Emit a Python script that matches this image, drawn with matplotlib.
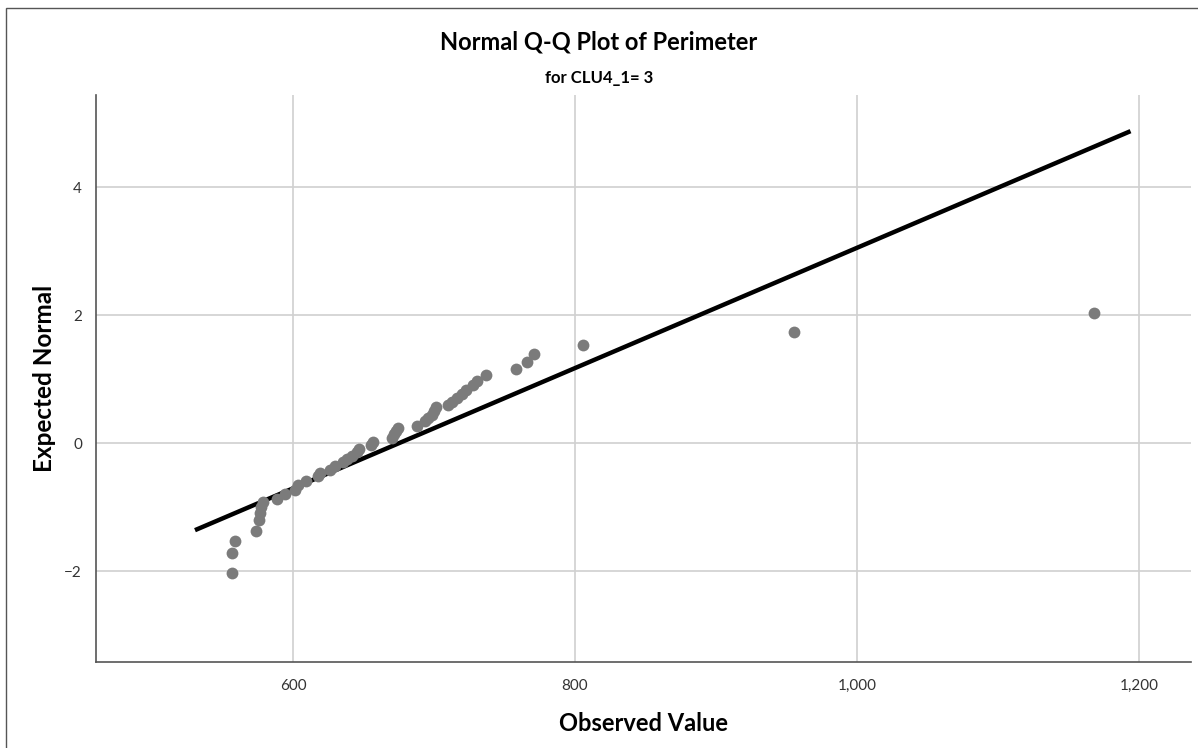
import matplotlib.pyplot as plt
from matplotlib.patches import Rectangle
from matplotlib.ticker import FuncFormatter

# ========== Data ==========
observed = [556.7, 556.7, 558.9, 573.8, 575.9, 576.6, 577.3, 578.7, 588.7, 594.3,
            601.4, 603.5, 609.2, 617.7, 619.1, 626.2, 629.8, 635.5, 638.3, 641.8,
            645.4, 646.8, 655.3, 656.7, 670.2, 671.6, 673.0, 674.5, 687.9, 693.6,
            695.7, 698.6, 700.0, 701.4, 709.9, 712.8, 716.3, 719.9, 722.7, 727.7,
            730.5, 736.9, 758.2, 766.0, 770.9, 805.7, 955.3, 1168.1]
expected = [-2.03, -1.72, -1.53, -1.38, -1.20, -1.09, -1.00, -0.92, -0.875, -0.80,
            -0.73, -0.66, -0.59, -0.52, -0.47, -0.42, -0.36, -0.30, -0.25, -0.20,
            -0.14, -0.09, -0.03, 0.02, 0.08, 0.14, 0.19, 0.23, 0.27, 0.34,
            0.39, 0.44, 0.50, 0.56, 0.59, 0.64, 0.70, 0.77, 0.83, 0.91,
            0.97, 1.06, 1.16, 1.27, 1.39, 1.53, 1.73, 2.03]

# reference line (ends as drawn)
line_x = [530.5, 1194.0]
line_y = [-1.36, 4.875]

x_ticks = [600, 800, 1000, 1200]
y_ticks = [-2, 0, 2, 4]

plt.rcParams['font.family'] = ['Lato', 'DejaVu Sans']

fig = plt.figure(figsize=(11.98, 7.48), dpi=100)
W, H = 1198, 748
ax = fig.add_axes([96 / W, 1 - 662 / H, (1191 - 96) / W, (662 - 95) / H])

# outer frame of the exported chart
fig.patches.append(Rectangle((6 / W, -0.1), 1.2, 1 - 8 / H + 0.1, transform=fig.transFigure,
                             fill=False, edgecolor='#555555', linewidth=1.0))

ax.grid(True, color='#d0d0d0', linewidth=1.2)
ax.set_axisbelow(True)

ax.plot(line_x, line_y, color='black', linewidth=3.2, solid_capstyle='butt', zorder=2)
ax.plot(observed, expected, linestyle='none', marker='o', markersize=8.5,
        color='#7b7b7b', markeredgewidth=0, zorder=3)

ax.set_xlim(460.3, 1236.9)
ax.set_ylim(-3.42, 5.44)
ax.set_xticks(x_ticks)
ax.set_yticks(y_ticks)
ax.xaxis.set_major_formatter(FuncFormatter(lambda v, p: f'{int(v):,}'))

for s in ['top', 'right']:
    ax.spines[s].set_visible(False)
for s in ['left', 'bottom']:
    ax.spines[s].set_color('#555555')
    ax.spines[s].set_linewidth(1.2)
ax.tick_params(length=0, labelsize=11, colors='#333333')
ax.tick_params(axis='x', pad=12)
ax.tick_params(axis='y', pad=10)

ax.set_xlabel('Observed Value', fontsize=17, fontweight='bold', labelpad=14)
ax.set_ylabel('Expected Normal', fontsize=17.5, fontweight='bold', labelpad=6)

fig.text(599 / W, 1 - 42 / H, 'Normal Q-Q Plot of Perimeter', ha='center', va='center',
         fontsize=17, fontweight='bold')
fig.text(599 / W, 1 - 78 / H, 'for CLU4_1= 3', ha='center', va='center',
         fontsize=12, fontweight='bold')

plt.savefig('out.png', dpi=100)
